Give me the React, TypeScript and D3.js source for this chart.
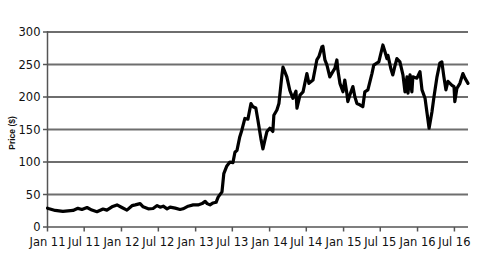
import React from "react";
import * as d3 from "d3";

const dates: string[] = [
  "2011-01-01","2011-01-05","2011-02-08","2011-03-18","2011-05-07","2011-05-31","2011-06-20","2011-07-15","2011-08-08","2011-09-02","2011-10-02","2011-10-21","2011-11-15","2011-12-10",
  "2012-01-03","2012-01-28","2012-02-22","2012-03-09","2012-04-02","2012-04-17","2012-05-12","2012-06-05","2012-06-25","2012-07-10","2012-07-25","2012-08-13","2012-08-28","2012-09-22","2012-10-16","2012-10-31","2012-11-25","2012-12-20",
  "2013-01-13","2013-02-02","2013-02-17","2013-02-27","2013-03-13","2013-03-28","2013-04-12","2013-04-22","2013-05-11","2013-05-20","2013-06-04","2013-06-19","2013-07-04","2013-07-14","2013-07-24","2013-08-07","2013-08-17","2013-09-01","2013-09-16","2013-10-01","2013-10-11","2013-10-25","2013-11-04","2013-11-19","2013-11-29","2013-12-09","2013-12-19",
  "2014-01-02","2014-01-17","2014-01-22","2014-02-06","2014-02-16","2014-03-03","2014-03-08","2014-03-27","2014-04-11","2014-04-26","2014-05-11","2014-05-16","2014-05-31","2014-06-15","2014-07-04","2014-07-14","2014-08-03","2014-08-22","2014-09-01","2014-09-16","2014-09-21","2014-10-01","2014-10-11","2014-10-25","2014-11-09","2014-11-19","2014-11-29","2014-12-04","2014-12-14","2014-12-29",
  "2015-01-07","2015-01-17","2015-01-22","2015-02-01","2015-02-16","2015-02-26","2015-03-08","2015-03-22","2015-04-06","2015-04-16","2015-05-01","2015-05-21","2015-05-30","2015-06-14","2015-06-24","2015-07-14","2015-07-24","2015-08-03","2015-08-08","2015-08-22","2015-09-01","2015-09-11","2015-09-21","2015-10-06","2015-10-21","2015-10-31","2015-11-10","2015-11-15","2015-11-25","2015-12-04","2015-12-09","2015-12-29",
  "2016-01-13","2016-01-23","2016-02-07","2016-02-17","2016-02-27","2016-03-12","2016-03-22","2016-04-06","2016-04-20","2016-04-30","2016-05-10","2016-05-20","2016-05-30","2016-06-19","2016-06-29","2016-07-03","2016-07-13","2016-07-28","2016-08-12","2016-08-22","2016-09-06"
];

const prices: number[] = [
  29,28.5,25.5,24,25.5,28.7,27,30,26,23.5,27.7,26,31,34,
  30,26,32.8,34,36,31,28,28.5,33,30.5,32,28,30.5,29,27,28,32,34,
  34,36,39.5,36,34,37,38,46,54,82,94,100,99,115,118,139,149,167,166,190,185,183,165,136,120,134,147,
  152,147,172,180,190,234,246,231,210,198,209,183,203,208,236,221,226,257,262,277,278,257,249,231,239,244,257,241,221,208,
  226,206,193,203,216,200,190,188,185,208,211,236,249,252,254,280,270,259,264,244,234,247,259,254,234,208,231,206,234,208,231,229,
  239,211,198,175,152,177,200,231,252,254,231,211,224,218,216,193,213,221,236,229,221
];

const yTicks: number[] = [0, 50, 100, 150, 200, 250, 300];
const xTickDates: string[] = ["2011-01-01","2011-07-01","2012-01-01","2012-07-01","2013-01-01","2013-07-01","2014-01-01","2014-07-01","2015-01-01","2015-07-01","2016-01-01","2016-07-01"];
const xDomain: string[] = ["2011-01-01", "2016-09-06"];
const yLabel = "Price ($)";

const parse = d3.utcParse("%Y-%m-%d");
const fmt = d3.utcFormat("%b %y");

export default function App() {
  const W = 500, H = 259;
  const left = 47.5, right = 468, top = 32, bottom = 227;
  const x = d3.scaleUtc().domain(xDomain.map((d) => parse(d) as Date)).range([left, right]);
  const y = d3.scaleLinear().domain([0, 300]).range([bottom, top]);
  const pts = dates.map((d, i) => ({ d: parse(d) as Date, v: prices[i] }));
  const line = d3.line<{ d: Date; v: number }>().x((p) => x(p.d)).y((p) => y(p.v));
  const font = "'DejaVu Sans', sans-serif";
  const axisColor = "#555";
  const gridColor = "#6e6e6e";
  return (
    <svg width={W} height={H} style={{ position: "absolute", left: 0, top: 0 }} xmlns="http://www.w3.org/2000/svg">
      <rect x={0} y={0} width={W} height={H} fill="#fff" />
      {yTicks.filter((t) => t > 0).map((t) => (
        <line key={"g" + t} x1={left} x2={right} y1={y(t)} y2={y(t)} stroke={gridColor} strokeWidth={1.8} />
      ))}
      {yTicks.map((t) => (
        <g key={"y" + t}>
          <line x1={left - 4.5} x2={left} y1={y(t)} y2={y(t)} stroke={axisColor} strokeWidth={1.5} />
          <text x={left - 7} y={y(t)} dy="0.36em" textAnchor="end" fontFamily={font} fontSize={11.5} fill="#111">{t}</text>
        </g>
      ))}
      <line x1={left} x2={left} y1={top - 1} y2={bottom} stroke={axisColor} strokeWidth={1.5} />
      <line x1={left} x2={right} y1={bottom} y2={bottom} stroke={axisColor} strokeWidth={1.5} />
      {xTickDates.map((s) => {
        const d = parse(s) as Date;
        return (
          <g key={"x" + s}>
            <line x1={x(d)} x2={x(d)} y1={bottom} y2={bottom + 4.5} stroke={axisColor} strokeWidth={1.5} />
            <text x={x(d)} y={bottom + 19} textAnchor="middle" fontFamily={font} fontSize={11.5} fill="#111">{fmt(d)}</text>
          </g>
        );
      })}
      <text transform={`translate(12.5,133) rotate(-90)`} textAnchor="middle" dy="0.35em" fontFamily="'Liberation Sans', Arial, sans-serif" fontWeight="bold" fontSize={8.5} fill="#111">{yLabel}</text>
      <path d={line(pts) || ""} fill="none" stroke="#000" strokeWidth={3.2} strokeLinejoin="round" strokeLinecap="round" />
    </svg>
  );
}
